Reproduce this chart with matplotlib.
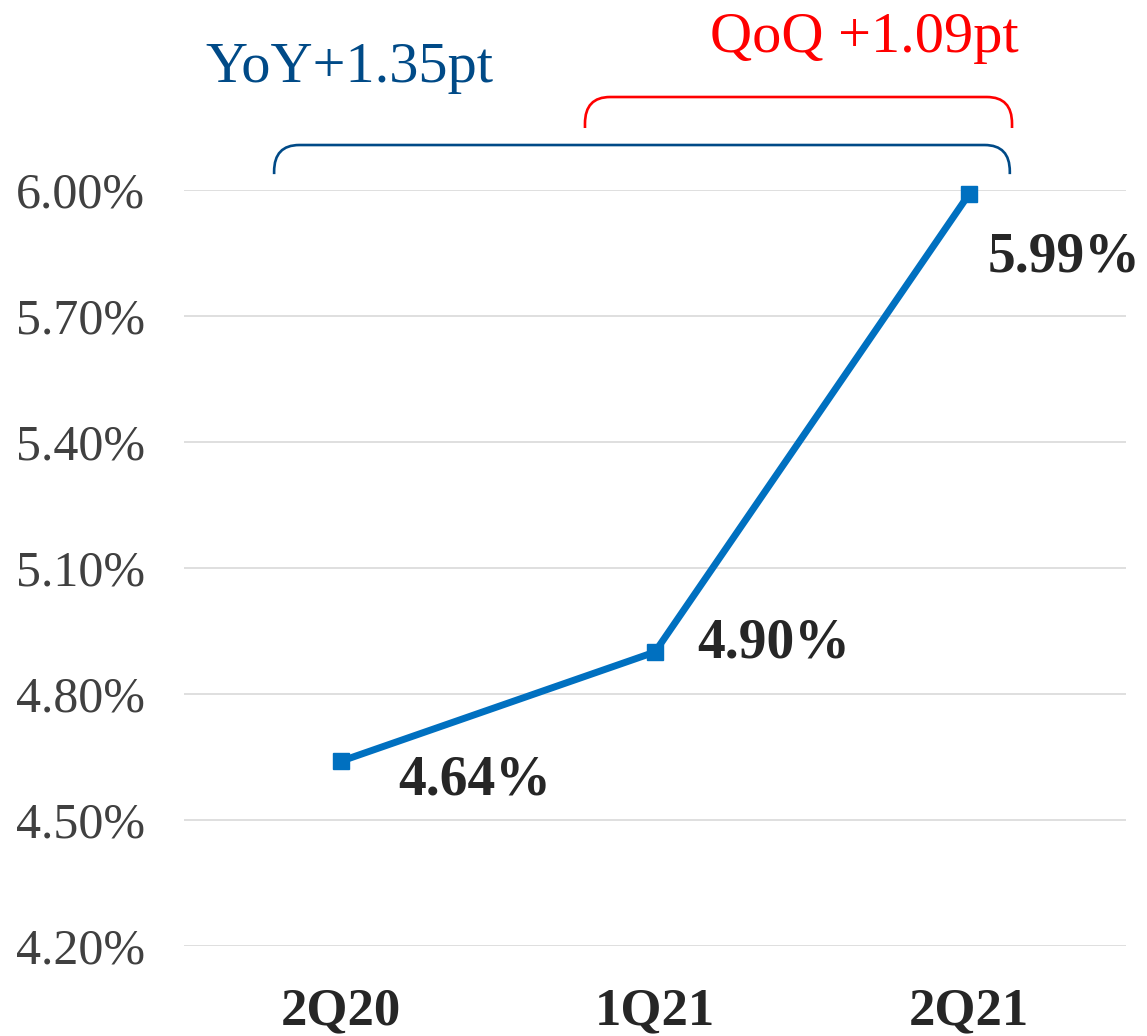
import matplotlib
matplotlib.use("Agg")
import matplotlib.pyplot as plt
from matplotlib.path import Path
from matplotlib.patches import PathPatch
import matplotlib.transforms as mtransforms
from matplotlib.ticker import FuncFormatter

categories = ["2Q20", "1Q21", "2Q21"]
values = [4.64, 4.90, 5.99]
value_labels = ["4.64%", "4.90%", "5.99%"]
yticks = [4.20, 4.50, 4.80, 5.10, 5.40, 5.70, 6.00]
yoy_text = "YoY+1.35pt"
qoq_text = "QoQ +1.09pt"

FONT = ["Liberation Serif", "DejaVu Serif"]

fig = plt.figure(figsize=(11.47, 10.36), dpi=100)
ax = fig.add_axes([184 / 1147, 1 - 946 / 1036, 942 / 1147, 756 / 1036])

x = list(range(len(categories)))
ax.plot(x, values, color="#0070c0", linewidth=5, marker="s", markersize=11,
        clip_on=False, zorder=3)

ax.set_xlim(-0.5, len(categories) - 0.5)
ax.set_ylim(4.2, 6.0)
ax.set_yticks(yticks)
ax.yaxis.set_major_formatter(FuncFormatter(lambda v, p: f"{v:.2f}%"))
ax.set_xticks(x)
ax.set_xticklabels(categories)
ax.grid(axis="y", color="#d9d9d9", linewidth=1.2)
ax.set_axisbelow(True)
for s in ax.spines.values():
    s.set_visible(False)
ax.tick_params(axis="both", length=0)
ax.tick_params(axis="y", pad=28, labelsize=36, labelcolor="#404040")
ax.tick_params(axis="x", pad=30, labelsize=38, labelcolor="#262626")
for lbl in ax.get_yticklabels():
    lbl.set_family(FONT)
for lbl in ax.get_xticklabels():
    lbl.set_family(FONT)
    lbl.set_fontweight("bold")

# data labels
offsets = [(57, -19), (42, 9), (19, -63)]
for xi, v, lab, (dx, dy) in zip(x, values, value_labels, offsets):
    ax.annotate(lab, (xi, v), xytext=(dx * 0.72, dy * 0.72), textcoords="offset points",
                ha="left", va="center", fontsize=40, fontweight="bold",
                color="#262626", family=FONT, annotation_clip=False)

# brackets
trans = mtransforms.blended_transform_factory(ax.transData, ax.transAxes)


def bracket(x0, x1, ybot, ytop, color, rx=0.08, ry=0.035):
    verts = [(x0, ybot), (x0, ytop - ry), (x0, ytop), (x0 + rx, ytop),
             (x1 - rx, ytop), (x1, ytop), (x1, ytop - ry), (x1, ybot)]
    codes = [Path.MOVETO, Path.LINETO, Path.CURVE3, Path.CURVE3,
             Path.LINETO, Path.CURVE3, Path.CURVE3, Path.LINETO]
    p = PathPatch(Path(verts, codes), transform=trans, fill=False,
                  edgecolor=color, linewidth=1.9, clip_on=False)
    ax.add_patch(p)


bracket(-0.213, 2.13, 1.021, 1.0595, "#004a87")
bracket(0.777, 2.137, 1.082, 1.123, "#ff0000")

fig.text(205 / 1147, 1 - 68 / 1036, yoy_text, ha="left", va="center",
         fontsize=42, color="#004a87", family=FONT)
fig.text(710 / 1147, 1 - 38 / 1036, qoq_text, ha="left", va="center",
         fontsize=42, color="#ff0000", family=FONT)

fig.savefig("out.png", dpi=100)
